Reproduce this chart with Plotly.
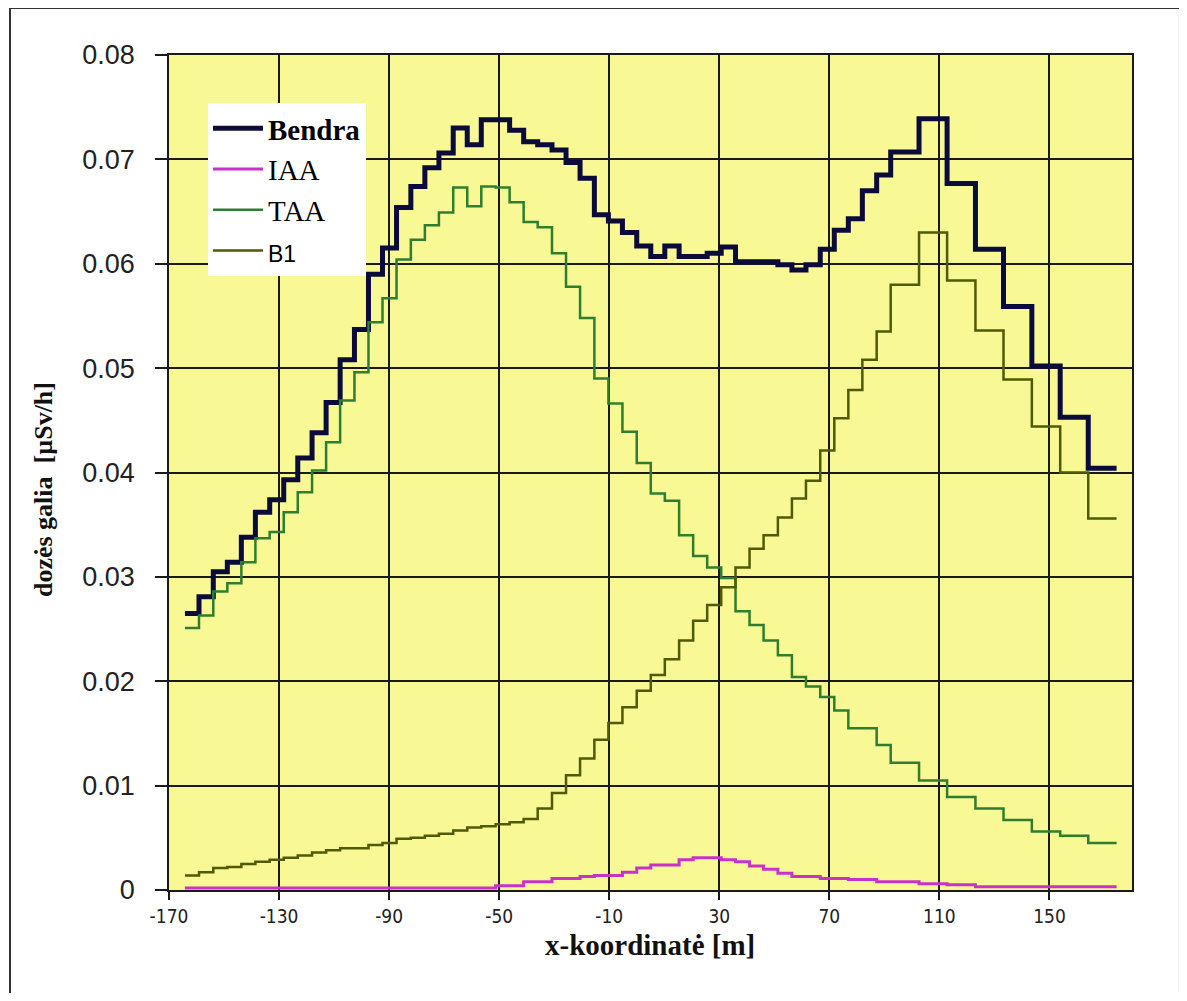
import plotly.graph_objects as go

# Step edges along the x-coordinate [m] (66 bins)
x_edges = [
    -164.2, -159.1, -153.9, -148.8, -143.7, -138.6, -133.4, -128.3, -123.2, -118.0,
    -112.9, -107.8, -102.6, -97.5, -92.4, -87.3, -82.1, -77.0, -71.9, -66.7,
    -61.6, -56.5, -51.3, -46.2, -41.1, -36.0, -30.8, -25.7, -20.6, -15.4,
    -10.3, -5.2, 0.0, 5.1, 10.2, 15.4, 20.5, 25.6, 30.7, 35.9,
    41.0, 46.1, 51.3, 56.4, 61.5, 66.7, 71.8, 76.9, 82.0, 87.2,
    92.3, 97.4, 102.6, 107.7, 112.8, 118.0, 123.1, 128.2, 133.3, 138.5,
    143.6, 148.7, 153.9, 159.0, 164.1, 169.3, 174.4,
]

bendra = [
    0.0265, 0.0281, 0.0305, 0.0314, 0.0338, 0.0362, 0.0374, 0.0393, 0.0414, 0.0438,
    0.0467, 0.0508, 0.0537, 0.0590, 0.0615, 0.0654, 0.0674, 0.0692, 0.0706, 0.0730,
    0.0714, 0.0738, 0.0738, 0.0728, 0.0717, 0.0714, 0.0709, 0.0697, 0.0682, 0.0647,
    0.0641, 0.0630, 0.0617, 0.0607, 0.0617, 0.0607, 0.0607, 0.0610, 0.0616, 0.0602,
    0.0602, 0.0602, 0.0599, 0.0594, 0.0599, 0.0614, 0.0632, 0.0643, 0.0670, 0.0685,
    0.0707, 0.0707, 0.0739, 0.0739, 0.0677, 0.0677, 0.0614, 0.0614, 0.0559, 0.0559,
    0.0502, 0.0502, 0.0453, 0.0453, 0.0404, 0.0404,
]

iaa = [
    0.0002, 0.0002, 0.0002, 0.0002, 0.0002, 0.0002, 0.0002, 0.0002, 0.0002, 0.0002,
    0.0002, 0.0002, 0.0002, 0.0002, 0.0002, 0.0002, 0.0002, 0.0002, 0.0002, 0.0002,
    0.0002, 0.0002, 0.0004, 0.0004, 0.0008, 0.0008, 0.0011, 0.0011, 0.0013, 0.0014,
    0.0014, 0.0017, 0.0021, 0.0024, 0.0024, 0.0029, 0.0031, 0.0031, 0.0029, 0.0027,
    0.0023, 0.0020, 0.0016, 0.0013, 0.0013, 0.0011, 0.0011, 0.0010, 0.0010, 0.0008,
    0.0008, 0.0008, 0.0006, 0.0006, 0.0005, 0.0005, 0.0003, 0.0003, 0.0003, 0.0003,
    0.0003, 0.0003, 0.0003, 0.0003, 0.0003, 0.0003,
]

taa = [
    0.0251, 0.0263, 0.0286, 0.0294, 0.0314, 0.0337, 0.0343, 0.0362, 0.0381, 0.0402,
    0.0429, 0.0469, 0.0496, 0.0544, 0.0567, 0.0604, 0.0623, 0.0637, 0.0649, 0.0673,
    0.0655, 0.0674, 0.0673, 0.0659, 0.0640, 0.0635, 0.0610, 0.0578, 0.0548, 0.0490,
    0.0466, 0.0439, 0.0409, 0.0380, 0.0373, 0.0340, 0.0320, 0.0309, 0.0299, 0.0267,
    0.0254, 0.0239, 0.0225, 0.0204, 0.0195, 0.0185, 0.0172, 0.0155, 0.0155, 0.0139,
    0.0122, 0.0122, 0.0105, 0.0105, 0.0089, 0.0089, 0.0078, 0.0078, 0.0067, 0.0067,
    0.0056, 0.0056, 0.0052, 0.0052, 0.0045, 0.0045,
]

b1 = [
    0.0014, 0.0017, 0.0021, 0.0022, 0.0025, 0.0027, 0.0029, 0.0031, 0.0033, 0.0036,
    0.0038, 0.0040, 0.0040, 0.0043, 0.0045, 0.0049, 0.0050, 0.0052, 0.0054, 0.0057,
    0.0060, 0.0061, 0.0063, 0.0065, 0.0068, 0.0078, 0.0093, 0.0110, 0.0126, 0.0144,
    0.0160, 0.0175, 0.0191, 0.0206, 0.0221, 0.0239, 0.0258, 0.0273, 0.0290, 0.0309,
    0.0327, 0.0340, 0.0357, 0.0375, 0.0392, 0.0421, 0.0452, 0.0479, 0.0508, 0.0535,
    0.0580, 0.0580, 0.0630, 0.0630, 0.0584, 0.0584, 0.0536, 0.0536, 0.0489, 0.0489,
    0.0444, 0.0444, 0.0400, 0.0400, 0.0356, 0.0356,
]

x_ticks = [-170, -130, -90, -50, -10, 30, 70, 110, 150]
x_tick_text = ["-170", "-130", "-90", "-50", "-10", "30", "70", "110", "150"]
y_ticks = [0, 0.01, 0.02, 0.03, 0.04, 0.05, 0.06, 0.07, 0.08]
y_tick_text = ["0", "0.01", "0.02", "0.03", "0.04", "0.05", "0.06", "0.07", "0.08"]

series = [
    ("Bendra", "<b>Bendra</b>", bendra, "#0b0b3b", 5),
    ("IAA", "IAA", iaa, "#c832c8", 3),
    ("TAA", "TAA", taa, "#2f7d2f", 2.5),
    ("B1", '<span style="font-family:Liberation Sans, Arial, sans-serif;font-size:23px">B1</span>',
     b1, "#4f5a04", 2.5),
]

fig = go.Figure()
for key, label, vals, color, width in series:
    fig.add_trace(go.Scatter(
        x=x_edges, y=vals + [vals[-1]], mode="lines", name=label, legendgroup=key,
        line=dict(shape="hv", color=color, width=width),
    ))

axis_col = "#1a1a1a"
fig.update_layout(
    width=1171, height=985,
    margin=dict(l=161, r=47, t=47, b=103),
    paper_bgcolor="white",
    plot_bgcolor="#F8F895",
    showlegend=True,
    legend=dict(
        x=0.0405, y=0.9425, xanchor="left", yanchor="top",
        bgcolor="white", borderwidth=0,
        font=dict(family="Liberation Serif, Times New Roman, serif", size=29, color="black"),
        tracegroupgap=0, itemwidth=50,
    ),
    xaxis=dict(
        range=[-170, 180], tickmode="array", tickvals=x_ticks, ticktext=x_tick_text,
        showgrid=True, gridcolor=axis_col, gridwidth=1.5, zeroline=False,
        showline=True, mirror=True, linecolor=axis_col, linewidth=1.5,
        ticks="outside", ticklen=8, tickwidth=1.5, tickcolor=axis_col,
        tickfont=dict(family="Liberation Sans Narrow, DejaVu Sans Condensed, Arial Narrow, sans-serif",
                      size=19, color="#222"),
    ),
    yaxis=dict(
        range=[0, 0.08], tickmode="array", tickvals=y_ticks, ticktext=y_tick_text,
        showgrid=True, gridcolor=axis_col, gridwidth=1.5, zeroline=False,
        showline=True, mirror=True, linecolor=axis_col, linewidth=1.5,
        ticks="outside", ticklen=12, tickwidth=1.5, tickcolor=axis_col,
        ticklabelstandoff=15,
        tickfont=dict(family="Liberation Sans, Arial, sans-serif", size=27, color="#222"),
    ),
    annotations=[
        dict(text="<b>x-koordinatė [m]</b>", xref="paper", yref="paper", x=0.4995, y=-0.066,
             xanchor="center", yanchor="middle", showarrow=False,
             font=dict(family="Liberation Serif, Times New Roman, serif", size=29, color="#111")),
        dict(text="<b>dozės galia\u00a0 [µSv/h]</b>", xref="paper", yref="paper", x=-0.1308, y=0.479,
             xanchor="center", yanchor="middle", showarrow=False, textangle=-90,
             font=dict(family="Liberation Serif, Times New Roman, serif", size=26, color="#111")),
    ],
    shapes=[
        dict(type="rect", xref="paper", yref="paper", x0=-0.1651, x1=1.0498, y0=-0.16, y1=1.0563,
             line=dict(color="#333", width=2), fillcolor="rgba(0,0,0,0)", layer="below"),
    ],
)

fig.write_html("out.html")
